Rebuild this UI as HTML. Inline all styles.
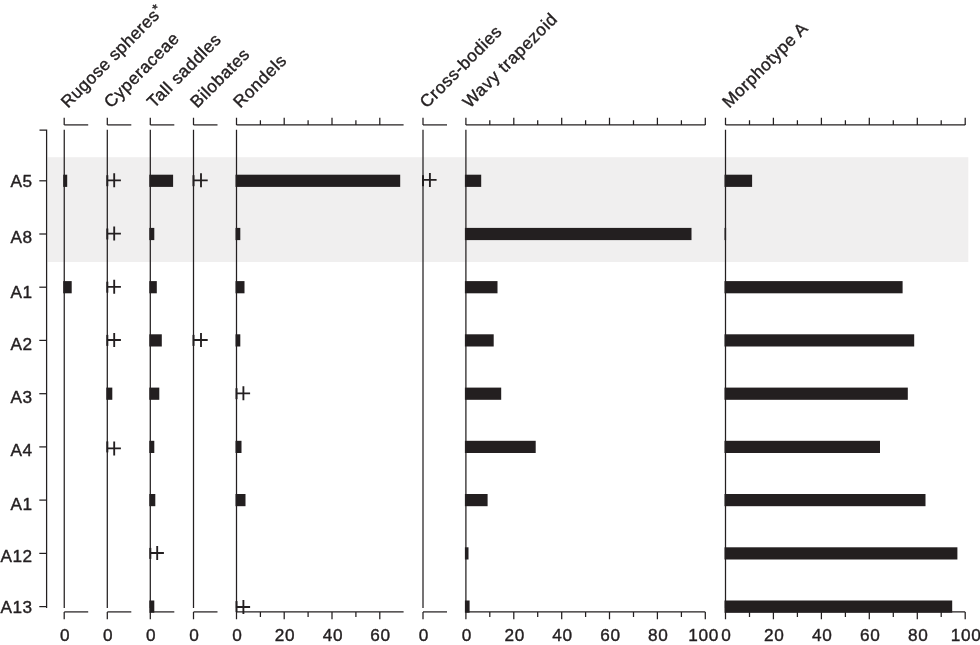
<!DOCTYPE html>
<html lang="en"><head><meta charset="utf-8"><title>Phytolith diagram</title>
<style>html,body{margin:0;padding:0;background:#fff}svg{display:block}</style>
</head><body>
<svg width="980" height="645" viewBox="0 0 980 645" font-family="'Liberation Sans', Arial, Helvetica, sans-serif" font-size="17.2" fill="#231f20" letter-spacing="0.4">
<rect x="0" y="0" width="980" height="645" fill="#ffffff"/>
<rect x="47.6" y="157.2" width="920.7" height="104.8" fill="#f0efef"/>
<g stroke="#231f20" stroke-width="1.25" fill="none">
<path d="M39.5 130H46.6V607.9"/>
<path d="M39.3 180.8H46.6"/>
<path d="M39.3 234.0H46.6"/>
<path d="M39.3 287.2H46.6"/>
<path d="M39.3 340.4H46.6"/>
<path d="M39.3 393.7H46.6"/>
<path d="M39.3 446.9H46.6"/>
<path d="M39.3 500.1H46.6"/>
<path d="M39.3 553.4H46.6"/>
<path d="M39.3 606.6H46.6"/>
<path d="M64.25 129.8V608.0"/>
<path d="M64.25 124.9H88.2"/>
<path d="M64.25 611.9H88.2"/>
<path d="M64.2 124.9V117.8M64.2 611.9V619.2"/>
<path d="M107.3 129.8V608.0"/>
<path d="M107.3 124.9H131.3"/>
<path d="M107.3 611.9H131.3"/>
<path d="M107.3 124.9V117.8M107.3 611.9V619.2"/>
<path d="M150.3 129.8V608.0"/>
<path d="M150.3 124.9H174.3"/>
<path d="M150.3 611.9H174.3"/>
<path d="M150.3 124.9V117.8M150.3 611.9V619.2"/>
<path d="M193.5 129.8V608.0"/>
<path d="M193.5 124.9H217.5"/>
<path d="M193.5 611.9H217.5"/>
<path d="M193.5 124.9V117.8M193.5 611.9V619.2"/>
<path d="M236.5 129.8V608.0"/>
<path d="M236.5 124.9H403.6"/>
<path d="M236.5 611.9H403.6"/>
<path d="M236.5 124.9V117.8M236.5 611.9V619.2"/>
<path d="M260.4 124.9V120.2M260.4 611.9V617"/>
<path d="M284.2 124.9V117.8M284.2 611.9V619.2"/>
<path d="M308.1 124.9V120.2M308.1 611.9V617"/>
<path d="M332.0 124.9V117.8M332.0 611.9V619.2"/>
<path d="M355.9 124.9V120.2M355.9 611.9V617"/>
<path d="M379.8 124.9V117.8M379.8 611.9V619.2"/>
<path d="M423.0 129.8V608.0"/>
<path d="M423.0 124.9H447.0"/>
<path d="M423.0 611.9H447.0"/>
<path d="M423.0 124.9V117.8M423.0 611.9V619.2"/>
<path d="M465.9 129.8V608.0"/>
<path d="M465.9 124.9H705.3"/>
<path d="M465.9 611.9H705.3"/>
<path d="M465.9 124.9V117.8M465.9 611.9V619.2"/>
<path d="M489.8 124.9V120.2M489.8 611.9V617"/>
<path d="M513.8 124.9V117.8M513.8 611.9V619.2"/>
<path d="M537.7 124.9V120.2M537.7 611.9V617"/>
<path d="M561.7 124.9V117.8M561.7 611.9V619.2"/>
<path d="M585.6 124.9V120.2M585.6 611.9V617"/>
<path d="M609.5 124.9V117.8M609.5 611.9V619.2"/>
<path d="M633.5 124.9V120.2M633.5 611.9V617"/>
<path d="M657.4 124.9V117.8M657.4 611.9V619.2"/>
<path d="M681.4 124.9V120.2M681.4 611.9V617"/>
<path d="M705.3 124.9V117.8M705.3 611.9V619.2"/>
<path d="M725.5 129.8V608.0"/>
<path d="M725.5 124.9H965.2"/>
<path d="M725.5 611.9H965.2"/>
<path d="M725.5 124.9V117.8M725.5 611.9V619.2"/>
<path d="M749.5 124.9V120.2M749.5 611.9V617"/>
<path d="M773.4 124.9V117.8M773.4 611.9V619.2"/>
<path d="M797.4 124.9V120.2M797.4 611.9V617"/>
<path d="M821.4 124.9V117.8M821.4 611.9V619.2"/>
<path d="M845.4 124.9V120.2M845.4 611.9V617"/>
<path d="M869.3 124.9V117.8M869.3 611.9V619.2"/>
<path d="M893.3 124.9V120.2M893.3 611.9V617"/>
<path d="M917.3 124.9V117.8M917.3 611.9V619.2"/>
<path d="M941.2 124.9V120.2M941.2 611.9V617"/>
<path d="M965.2 124.9V117.8M965.2 611.9V619.2"/>
</g>
<g fill="#231f20">
<rect x="63.2" y="174.7" width="4.0" height="12.2"/>
<rect x="106.3" y="175.2" width="2.0" height="11"/>
<path d="M107.3 180.3H120.9M114.2 173.3V187.3" stroke="#231f20" stroke-width="1.85" fill="none"/>
<rect x="149.3" y="174.7" width="23.8" height="12.2"/>
<rect x="192.5" y="175.2" width="2.0" height="11"/>
<path d="M193.5 180.3H207.7M201.0 173.3V187.3" stroke="#231f20" stroke-width="1.85" fill="none"/>
<rect x="235.5" y="174.7" width="164.7" height="12.2"/>
<rect x="422.0" y="175.2" width="2.0" height="11"/>
<path d="M423.0 179.9H436.6M429.9 172.9V186.9" stroke="#231f20" stroke-width="1.85" fill="none"/>
<rect x="464.9" y="174.7" width="16.3" height="12.2"/>
<rect x="724.5" y="174.7" width="27.6" height="12.2"/>
<rect x="106.3" y="228.5" width="2.0" height="11"/>
<path d="M107.3 233.6H120.9M114.2 226.6V240.6" stroke="#231f20" stroke-width="1.85" fill="none"/>
<rect x="149.3" y="227.9" width="5.0" height="12.2"/>
<rect x="235.5" y="227.9" width="4.8" height="12.2"/>
<rect x="464.9" y="227.9" width="226.6" height="12.2"/>
<rect x="724.5" y="227.9" width="1.6" height="12.2"/>
<rect x="63.2" y="281.1" width="8.5" height="12.2"/>
<rect x="106.3" y="281.7" width="2.0" height="11"/>
<path d="M107.3 286.8H120.9M114.2 279.8V293.8" stroke="#231f20" stroke-width="1.85" fill="none"/>
<rect x="149.3" y="281.1" width="7.5" height="12.2"/>
<rect x="235.5" y="281.1" width="9.0" height="12.2"/>
<rect x="464.9" y="281.1" width="32.6" height="12.2"/>
<rect x="724.5" y="281.1" width="178.1" height="12.2"/>
<rect x="106.3" y="334.9" width="2.0" height="11"/>
<path d="M107.3 340.0H120.9M114.2 333.0V347.0" stroke="#231f20" stroke-width="1.85" fill="none"/>
<rect x="149.3" y="334.3" width="12.5" height="12.2"/>
<rect x="192.5" y="334.9" width="2.0" height="11"/>
<path d="M193.5 340.0H207.7M201.0 333.0V347.0" stroke="#231f20" stroke-width="1.85" fill="none"/>
<rect x="235.5" y="334.3" width="4.8" height="12.2"/>
<rect x="464.9" y="334.3" width="28.8" height="12.2"/>
<rect x="724.5" y="334.3" width="189.7" height="12.2"/>
<rect x="106.3" y="387.6" width="6.0" height="12.2"/>
<rect x="149.3" y="387.6" width="10.0" height="12.2"/>
<rect x="235.5" y="388.2" width="2.0" height="11"/>
<path d="M236.5 393.3H250.1M243.4 386.3V400.3" stroke="#231f20" stroke-width="1.85" fill="none"/>
<rect x="464.9" y="387.6" width="36.3" height="12.2"/>
<rect x="724.5" y="387.6" width="183.3" height="12.2"/>
<rect x="106.3" y="441.4" width="2.0" height="11"/>
<path d="M107.3 448.4H120.9M114.2 441.4V455.4" stroke="#231f20" stroke-width="1.85" fill="none"/>
<rect x="149.3" y="440.8" width="5.0" height="12.2"/>
<rect x="235.5" y="440.8" width="6.0" height="12.2"/>
<rect x="464.9" y="440.8" width="70.8" height="12.2"/>
<rect x="724.5" y="440.8" width="155.5" height="12.2"/>
<rect x="149.3" y="494.0" width="6.0" height="12.2"/>
<rect x="235.5" y="494.0" width="10.0" height="12.2"/>
<rect x="464.9" y="494.0" width="22.7" height="12.2"/>
<rect x="724.5" y="494.0" width="201.0" height="12.2"/>
<rect x="149.3" y="547.9" width="2.0" height="11"/>
<path d="M150.3 553.0H163.9M157.2 546.0V560.0" stroke="#231f20" stroke-width="1.85" fill="none"/>
<rect x="464.9" y="547.3" width="3.6" height="12.2"/>
<rect x="724.5" y="547.3" width="232.9" height="12.2"/>
<rect x="149.3" y="600.5" width="5.0" height="12.2"/>
<rect x="235.5" y="601.1" width="2.0" height="11"/>
<path d="M236.5 607.0H250.1M243.4 600.0V614.0" stroke="#231f20" stroke-width="1.85" fill="none"/>
<rect x="464.9" y="600.5" width="4.7" height="12.2"/>
<rect x="724.5" y="600.5" width="227.7" height="12.2"/>
</g>
<text x="32.4" y="187.1" text-anchor="end" stroke="#231f20" stroke-width="0.4">A5</text>
<text x="32.4" y="243.1" text-anchor="end" stroke="#231f20" stroke-width="0.4">A8</text>
<text x="32.4" y="297.5" text-anchor="end" stroke="#231f20" stroke-width="0.4">A1</text>
<text x="32.4" y="350.2" text-anchor="end" stroke="#231f20" stroke-width="0.4">A2</text>
<text x="32.4" y="402.6" text-anchor="end" stroke="#231f20" stroke-width="0.4">A3</text>
<text x="32.4" y="455.5" text-anchor="end" stroke="#231f20" stroke-width="0.4">A4</text>
<text x="32.4" y="509.6" text-anchor="end" stroke="#231f20" stroke-width="0.4">A1</text>
<text x="32.4" y="562.3" text-anchor="end" stroke="#231f20" stroke-width="0.4">A12</text>
<text x="32.4" y="612.9" text-anchor="end" stroke="#231f20" stroke-width="0.4">A13</text>
<text transform="translate(68.0 108.8) rotate(-45)" stroke="#231f20" stroke-width="0.4" letter-spacing="0.4">Rugose spheres<tspan font-size="13.5" dy="-4">*</tspan></text>
<text transform="translate(111.1 108.8) rotate(-45)" stroke="#231f20" stroke-width="0.4" letter-spacing="0.55">Cyperaceae</text>
<text transform="translate(154.1 108.8) rotate(-45)" stroke="#231f20" stroke-width="0.4" letter-spacing="0.55">Tall saddles</text>
<text transform="translate(197.3 108.8) rotate(-45)" stroke="#231f20" stroke-width="0.4" letter-spacing="0.55">Bilobates</text>
<text transform="translate(240.3 108.8) rotate(-45)" stroke="#231f20" stroke-width="0.4" letter-spacing="0.55">Rondels</text>
<text transform="translate(426.8 108.8) rotate(-45)" stroke="#231f20" stroke-width="0.4" letter-spacing="0.55">Cross-bodies</text>
<text transform="translate(469.7 108.8) rotate(-45)" stroke="#231f20" stroke-width="0.4" letter-spacing="0.55">Wavy trapezoid</text>
<text transform="translate(729.3 108.8) rotate(-45)" stroke="#231f20" stroke-width="0.4" letter-spacing="0.55">Morphotype A</text>
<text x="65.2" y="640.6" text-anchor="middle" stroke="#231f20" stroke-width="0.4" letter-spacing="0.7">0</text>
<text x="108.2" y="640.6" text-anchor="middle" stroke="#231f20" stroke-width="0.4" letter-spacing="0.7">0</text>
<text x="151.2" y="640.6" text-anchor="middle" stroke="#231f20" stroke-width="0.4" letter-spacing="0.7">0</text>
<text x="194.4" y="640.6" text-anchor="middle" stroke="#231f20" stroke-width="0.4" letter-spacing="0.7">0</text>
<text x="237.4" y="640.6" text-anchor="middle" stroke="#231f20" stroke-width="0.4" letter-spacing="0.7">0</text>
<text x="285.1" y="640.6" text-anchor="middle" stroke="#231f20" stroke-width="0.4" letter-spacing="0.7">20</text>
<text x="332.9" y="640.6" text-anchor="middle" stroke="#231f20" stroke-width="0.4" letter-spacing="0.7">40</text>
<text x="380.6" y="640.6" text-anchor="middle" stroke="#231f20" stroke-width="0.4" letter-spacing="0.7">60</text>
<text x="423.9" y="640.6" text-anchor="middle" stroke="#231f20" stroke-width="0.4" letter-spacing="0.7">0</text>
<text x="466.8" y="640.6" text-anchor="middle" stroke="#231f20" stroke-width="0.4" letter-spacing="0.7">0</text>
<text x="514.7" y="640.6" text-anchor="middle" stroke="#231f20" stroke-width="0.4" letter-spacing="0.7">20</text>
<text x="562.6" y="640.6" text-anchor="middle" stroke="#231f20" stroke-width="0.4" letter-spacing="0.7">40</text>
<text x="610.4" y="640.6" text-anchor="middle" stroke="#231f20" stroke-width="0.4" letter-spacing="0.7">60</text>
<text x="658.3" y="640.6" text-anchor="middle" stroke="#231f20" stroke-width="0.4" letter-spacing="0.7">80</text>
<text x="703.7" y="640.6" text-anchor="middle" stroke="#231f20" stroke-width="0.4" letter-spacing="0.7">100</text>
<text x="726.4" y="640.6" text-anchor="middle" stroke="#231f20" stroke-width="0.4" letter-spacing="0.7">0</text>
<text x="774.3" y="640.6" text-anchor="middle" stroke="#231f20" stroke-width="0.4" letter-spacing="0.7">20</text>
<text x="822.3" y="640.6" text-anchor="middle" stroke="#231f20" stroke-width="0.4" letter-spacing="0.7">40</text>
<text x="870.2" y="640.6" text-anchor="middle" stroke="#231f20" stroke-width="0.4" letter-spacing="0.7">60</text>
<text x="918.2" y="640.6" text-anchor="middle" stroke="#231f20" stroke-width="0.4" letter-spacing="0.7">80</text>
<text x="966.1" y="640.6" text-anchor="middle" stroke="#231f20" stroke-width="0.4" letter-spacing="0.7">100</text>
</svg>
</body></html>
